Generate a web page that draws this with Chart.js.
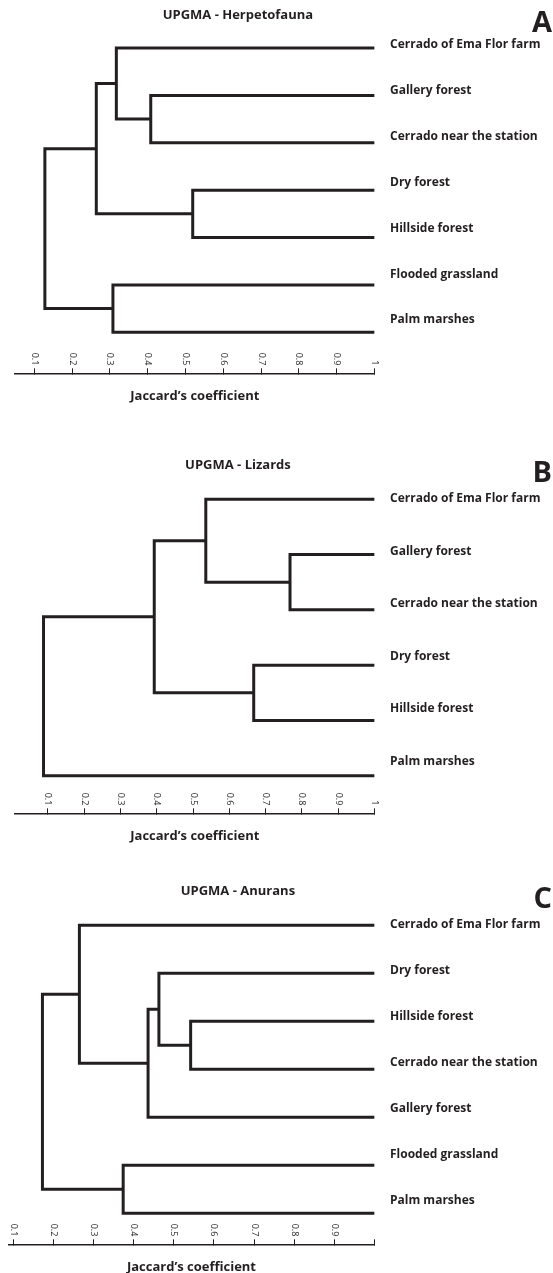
<!DOCTYPE html>
<html>
<head>
<meta charset="utf-8">
<title>UPGMA dendrograms</title>
<script src="https://cdn.jsdelivr.net/npm/chart.js@4.4.1/dist/chart.umd.min.js"></script>
<style>
  html, body { margin: 0; padding: 0; background: #fff; overflow: hidden; }
  #wrap { position: relative; width: 553px; height: 1273px; }
  canvas { position: absolute; left: 0; }
</style>
</head>
<body>
<div id="wrap">
  <canvas id="chartA" width="553" height="420" style="top:0px"></canvas>
  <canvas id="chartB" width="553" height="425" style="top:420px"></canvas>
  <canvas id="chartC" width="553" height="432" style="top:845px"></canvas>
</div>
<script>
// ---- data ----
// leaves top to bottom; merges join node ids (0..n-1 = leaves, n+k = k-th merge)
const leavesA = ['Cerrado of Ema Flor farm', 'Gallery forest', 'Cerrado near the station',
  'Dry forest', 'Hillside forest', 'Flooded grassland', 'Palm marshes'];
const pairsA = [[1, 2], [3, 4], [0, 7], [5, 6], [9, 8], [11, 10]];
const heightsA = [0.408, 0.519, 0.317, 0.308, 0.264, 0.128];

const leavesB = ['Cerrado of Ema Flor farm', 'Gallery forest', 'Cerrado near the station',
  'Dry forest', 'Hillside forest', 'Palm marshes'];
const pairsB = [[1, 2], [3, 4], [0, 6], [8, 7], [9, 5]];
const heightsB = [0.767, 0.667, 0.535, 0.393, 0.088];

const leavesC = ['Cerrado of Ema Flor farm', 'Dry forest', 'Hillside forest',
  'Cerrado near the station', 'Gallery forest', 'Flooded grassland', 'Palm marshes'];
const pairsC = [[2, 3], [1, 7], [8, 4], [0, 9], [5, 6], [10, 11]];
const heightsC = [0.542, 0.463, 0.436, 0.265, 0.374, 0.173];

const xTicks = [0.1, 0.2, 0.3, 0.4, 0.5, 0.6, 0.7, 0.8, 0.9, 1];
const xTickLabelsAB = ['0.1', '0.2', '0.3', '0.4', '0.5', '0.6', '0.7', '0.8', '0.9', '1'];
const xTickLabelsC = ['0.1', '0.2', '0.3', '0.4', '0.5', '0.6', '0.7', '0.8', '0.9', ''];

const INK = '#231f20';

// panel heading (off-centre, so not the built-in title) and the big letter
const panelHeading = {
  id: 'panelHeading',
  afterDraw(chart, args, opts) {
    const ctx = chart.ctx;
    ctx.save();
    ctx.fillStyle = INK;
    ctx.font = 'bold 13px "Open Sans"';
    ctx.textAlign = 'center';
    ctx.textBaseline = 'middle';
    ctx.fillText(opts.title, opts.titleX, opts.titleY);
    ctx.font = 'bold 29px "Open Sans"';
    ctx.textAlign = 'right';
    ctx.textBaseline = 'alphabetic';
    ctx.fillText(opts.letter, chart.width - 1, opts.letterY);
    ctx.restore();
  }
};

// one "U" per merge: child A -> merge height -> child B
function buildLinks(leaves, pairs, heights) {
  const nodes = leaves.map((_, i) => ({x: 1, y: i}));
  const sets = [];
  pairs.forEach(([a, b], k) => {
    const h = heights[k];
    const A = nodes[a], B = nodes[b];
    sets.push({
      data: [{x: A.x, y: A.y}, {x: h, y: A.y}, {x: h, y: B.y}, {x: B.x, y: B.y}],
      showLine: true,
      borderColor: INK,
      borderWidth: 3,
      borderJoinStyle: 'miter',
      borderCapStyle: 'butt',
      pointRadius: 0,
      tension: 0
    });
    nodes.push({x: h, y: (A.y + B.y) / 2});
  });
  return sets;
}

function makeDendrogram(id, p) {
  return new Chart(document.getElementById(id), {
    type: 'scatter',
    data: {datasets: buildLinks(p.leaves, p.pairs, p.heights)},
    plugins: [panelHeading],
    options: {
      responsive: false,
      animation: false,
      events: [],
      layout: {padding: {left: p.padL, right: 0, top: p.padT, bottom: 0}},
      plugins: {
        legend: {display: false},
        tooltip: {enabled: false},
        title: {display: false},
        panelHeading: {title: p.title, titleX: 237.9, titleY: p.titleY, letter: p.letter, letterY: p.letterY}
      },
      scales: {
        x: {
          type: 'linear',
          position: 'bottom',
          min: p.xMin,
          max: 1,
          afterBuildTicks: s => { s.ticks = xTicks.map(v => ({value: v})); },
          afterFit: s => { s.height = p.axisH; },
          grid: {display: true, drawOnChartArea: false, drawTicks: true, tickLength: -5, color: INK, lineWidth: 1},
          border: {display: true, color: INK, width: 1.5},
          ticks: {
            autoSkip: false,
            minRotation: -90,
            maxRotation: -90,
            mirror: true,
            padding: 8,
            labelOffset: -10.8,
            color: INK,
            font: {size: 9},
            callback: (v, i) => p.tickLabels[i]
          },
          title: {
            display: true,
            text: 'Jaccard\u2019s coefficient',
            color: INK,
            font: {size: 13, weight: 'bold'},
            padding: {top: 0, bottom: p.axisTitleBottom}
          }
        },
        y: {
          type: 'linear',
          display: false,
          reverse: true,
          min: p.yMin,
          max: p.yMax
        },
        yl: {
          type: 'linear',
          position: 'right',
          reverse: true,
          min: p.lMin,
          max: p.lMax,
          afterBuildTicks: s => { s.ticks = p.leaves.map((_, i) => ({value: i})); },
          afterFit: s => { s.width = 553 - 374.6; },
          grid: {display: false, drawTicks: false},
          border: {display: false},
          ticks: {
            autoSkip: false,
            padding: 15.4,
            color: INK,
            font: {size: 12, weight: 'bold'},
            callback: v => p.leaves[v]
          }
        }
      }
    }
  });
}

function drawAll() {
  Chart.defaults.font.family = '"Open Sans", sans-serif';

  makeDendrogram('chartA', {
    title: 'UPGMA - Herpetofauna', titleY: 15, letter: 'A', letterY: 31.7,
    leaves: leavesA, pairs: pairsA, heights: heightsA, tickLabels: xTickLabelsAB,
    padL: 15, padT: 30, axisH: 46.7, axisTitleBottom: 16.2,
    xMin: 0.049, yMin: -0.380, yMax: 6.865, lMin: -0.327, lMax: 7.163
  });

  makeDendrogram('chartB', {
    title: 'UPGMA - Lizards', titleY: 45, letter: 'B', letterY: 61.7,
    leaves: leavesB, pairs: pairsB, heights: heightsB, tickLabels: xTickLabelsAB,
    padL: 15, padT: 60, axisH: 31.7, axisTitleBottom: 0.5,
    xMin: 0.0094, yMin: -0.349, yMax: 5.680, lMin: -0.362, lMax: 5.987
  });

  makeDendrogram('chartC', {
    title: 'UPGMA - Anurans', titleY: 46, letter: 'C', letterY: 63,
    leaves: leavesC, pairs: pairsC, heights: heightsC, tickLabels: xTickLabelsC,
    padL: 8.3, padT: 61, axisH: 32.7, axisTitleBottom: 2.2,
    xMin: 0.088, yMin: -0.402, yMax: 6.646, lMin: -0.407, lMax: 6.963
  });
}

Promise.all([
  document.fonts.load('bold 13px "Open Sans"'),
  document.fonts.load('9px "Open Sans"'),
  document.fonts.load('bold 29px "Open Sans"')
]).then(drawAll, drawAll);
</script>
</body>
</html>
